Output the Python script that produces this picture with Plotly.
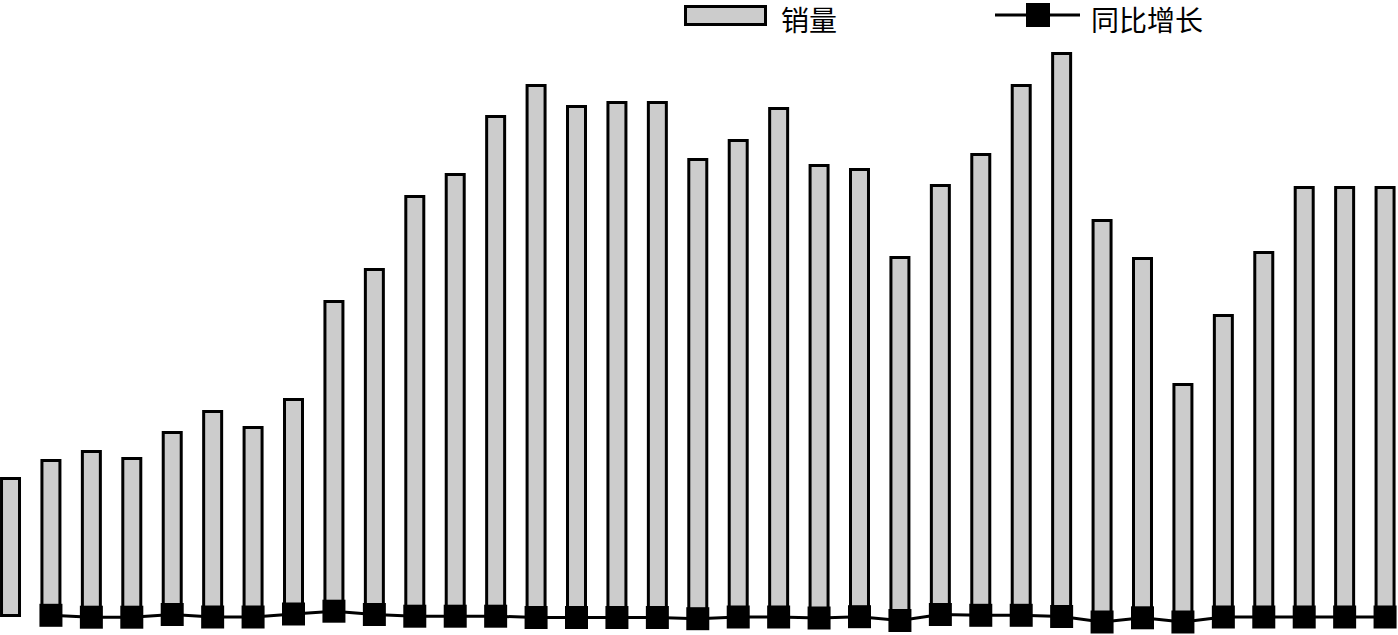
import plotly.graph_objects as go

W, H = 1398, 635

categories = [str(i) for i in range(1, 36)]
sales = [137, 155, 164, 157, 183, 204, 188, 216, 314, 346,
         419, 441, 499, 530, 509, 513, 513, 456, 475, 507,
         450, 446, 358, 430, 461, 530, 562, 395, 357, 231,
         300, 363, 428, 428, 428]
growth = [None, 0.2, -1.7, -1.7, 1.0, -1.5, -1.5, 1.5, 4.3, 1.0,
          -0.7, -0.7, -0.7, -2.0, -2.0, -2.0, -2.0, -3.2, -1.5, -1.5,
          -2.5, -1.2, -5.0, 1.0, 0.2, 0.2, -1.0, -6.5, -2.3, -6.5,
          -1.5, -1.5, -1.5, -1.5, -1.5]
legend_names = ["销量", "同比增长"]

fig = go.Figure()
fig.add_trace(go.Bar(
    x=categories, y=sales, name=legend_names[0], width=0.445,
    marker=dict(color="#cccccc", line=dict(color="black", width=3)),
    showlegend=False,
))
fig.add_trace(go.Scatter(
    x=categories, y=growth, name=legend_names[1], mode="lines+markers",
    line=dict(color="black", width=3),
    marker=dict(symbol="square", size=23, color="black"),
    showlegend=False,
))

def px(x):
    return x / W

def py(y):
    return 1 - y / H

font = dict(family="Noto Sans CJK SC", size=28, color="black")
shapes = [
    dict(type="rect", xref="paper", yref="paper",
         x0=px(685.5), x1=px(765.5), y0=py(24.5), y1=py(6.5),
         fillcolor="#cccccc", line=dict(color="black", width=3)),
    dict(type="line", xref="paper", yref="paper",
         x0=px(995), x1=px(1080), y0=py(15), y1=py(15),
         line=dict(color="black", width=3)),
    dict(type="rect", xref="paper", yref="paper",
         x0=px(1026), x1=px(1050), y0=py(27), y1=py(3),
         fillcolor="black", line=dict(color="black", width=0)),
]
annotations = [
    dict(text=legend_names[0], xref="paper", yref="paper", x=px(780), y=py(19),
         xanchor="left", yanchor="middle", showarrow=False, font=font, borderpad=0),
    dict(text=legend_names[1], xref="paper", yref="paper", x=px(1090), y=py(19),
         xanchor="left", yanchor="middle", showarrow=False, font=font, borderpad=0),
]

fig.update_layout(
    width=W, height=H,
    margin=dict(l=0, r=0, t=0, b=0),
    paper_bgcolor="white", plot_bgcolor="white",
    shapes=shapes, annotations=annotations,
    xaxis=dict(type="category", range=[-0.26, 34.32], visible=False),
    yaxis=dict(range=[-19.5, 615.5], visible=False),
)

fig.write_html(
    "out.html",
    config={"displayModeBar": False},
    post_script="document.body.style.margin='0';document.body.style.overflow='hidden';",
)
